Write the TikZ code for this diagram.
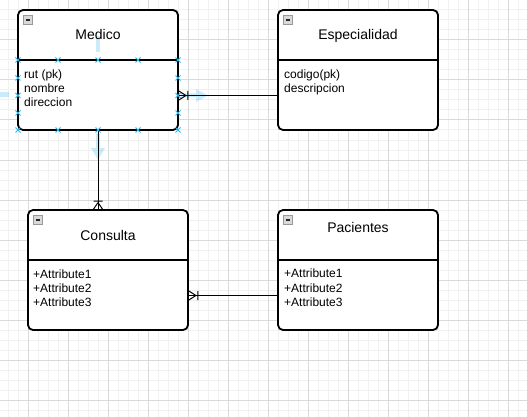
\documentclass[tikz,border=0pt]{standalone}
\usepackage{fontspec}
\setmainfont{Liberation Sans}
\usetikzlibrary{calc}
\definecolor{handle}{HTML}{29B6F2}
\definecolor{gridminor}{HTML}{F1F1F1}
\definecolor{gridmajor}{HTML}{DADADA}
\begin{document}
\begin{tikzpicture}[x=1pt,y=-1pt,
  entity/.style={draw, line width=1.8pt, rounded corners=5pt, minimum width=160pt,
    minimum height=120pt, inner sep=0pt, fill=white},
  sepline/.style={line width=1.8pt},
  title/.style={anchor=base, inner sep=0pt, font=\fontsize{14}{16}\selectfont},
  attr/.style={anchor=base west, inner sep=0pt, font=\fontsize{12}{14}\selectfont},
  conn/.style={line width=1pt, black},
  minusbox/.style={draw=gray!80, fill=gray!30, line width=0.6pt, minimum size=8.5pt, inner sep=0pt,
    path picture={\draw[line width=1.3pt, black!85] ([xshift=1.8pt]path picture bounding box.west) -- ([xshift=-1.8pt]path picture bounding box.east);}},
  handlemark/.style={handle, line width=1pt},
  hover/.style={fill=handle, fill opacity=0.25}
]
\useasboundingbox (0,0) rectangle (527,417);
\fill[white] (0,0) rectangle (527,417);
% grid
\foreach \x in {8,18,...,518} \draw[gridminor, line width=1pt] (\x,0) -- (\x,417);
\foreach \y in {10,20,...,410} \draw[gridminor, line width=1pt] (0,\y) -- (527,\y);
\foreach \x in {28,68,...,508} \draw[gridmajor, line width=1pt] (\x,0) -- (\x,417);
\foreach \y in {0,40,...,400} \draw[gridmajor, line width=1pt] (0,\y) -- (527,\y);

% entity boxes
\node[entity] (medico) at (98,70) {};
\node[entity] (especialidad) at (358,70) {};
\node[entity] (consulta) at (108,270) {};
\node[entity] (pacientes) at (358,270) {};

\draw[sepline] (medico.west |- 0,60) -- (medico.east |- 0,60);
\draw[sepline] (especialidad.west |- 0,60) -- (especialidad.east |- 0,60);
\draw[sepline] (consulta.west |- 0,260) -- (consulta.east |- 0,260);
\draw[sepline] (pacientes.west |- 0,260) -- (pacientes.east |- 0,260);

% minus icons
\node[minusbox] (medicoM) at (28,20) {};
\node[minusbox] (especialidadM) at (288,20) {};
\node[minusbox] (consultaM) at (38,220) {};
\node[minusbox] (pacientesM) at (288,220) {};

% hover arrows (behind text)
\fill[hover] (96,36.5) rectangle (100,52);
\fill[hover] (0,92.5) rectangle (9,97);
\fill[hover] (181,93.5) -- (196,93.5) -- (196,89) -- (208,95.5) -- (196,102) -- (196,97.5) -- (181,97.5) -- cycle;
\fill[hover] (96,134) -- (96,148) -- (91,148) -- (98,160) -- (105,148) -- (100,148) -- (100,134) -- cycle;

% titles
\node[title] (medicoT) at (98,40) {Medico};
\node[title] (especialidadT) at (358,40) {Especialidad};
\node[title] (consultaT) at (108,240.5) {Consulta};
\node[title] (pacientesT) at (358,232.3) {Pacientes};

% attributes
\node[attr] (medicoA1) at (24,78.5) {rut (pk)};
\node[attr] (medicoA2) at (24,92.5) {nombre};
\node[attr] (medicoA3) at (24,106.5) {direccion};
\node[attr] (especialidadA1) at (284,78.5) {codigo(pk)};
\node[attr] (especialidadA2) at (284,92.5) {descripcion};
\node[attr] (consultaA1) at (33,278.3) {+Attribute1};
\node[attr] (consultaA2) at (33,292.3) {+Attribute2};
\node[attr] (consultaA3) at (33,306.5) {+Attribute3};
\node[attr] (pacientesA1) at (284,277.5) {+Attribute1};
\node[attr] (pacientesA2) at (284,292) {+Attribute2};
\node[attr] (pacientesA3) at (284,306.5) {+Attribute3};

% connectors
\coordinate (mE) at (medico.east |- 0,95.5);
\draw[conn] (especialidad.west |- mE) -- (mE);
\draw[conn] ($(mE)+(7,0)$) -- ($(mE)+(0,-4.5)$) ($(mE)+(7,0)$) -- ($(mE)+(0,4.5)$)
  ($(mE)+(9,-4.5)$) -- ($(mE)+(9,4.5)$);

\coordinate (cT) at (consulta.north -| medico.south);
\draw[conn] (medico.south) -- (cT);
\draw[conn] ($(cT)+(0,-6.5)$) -- ($(cT)+(-4.5,0)$) ($(cT)+(0,-6.5)$) -- ($(cT)+(4.5,0)$)
  ($(cT)+(-4.5,-8)$) -- ($(cT)+(4.5,-8)$);

\coordinate (cE) at (consulta.east |- 0,295.5);
\draw[conn] (pacientes.west |- cE) -- (cE);
\draw[conn] ($(cE)+(7,0)$) -- ($(cE)+(0,-4.5)$) ($(cE)+(7,0)$) -- ($(cE)+(0,4.5)$)
  ($(cE)+(9,-4.5)$) -- ($(cE)+(9,4.5)$);

% selection handles on Medico
\foreach \hx/\hy in {18/60,58/60,98/60,138/60,178/60,18/130,58/130,98/130,138/130,178/130,
  18/78,18/95.5,18/113,178/78,178/95.5,178/113}
  \draw[handlemark] (\hx-2.5,\hy-2.5) -- (\hx+2.5,\hy+2.5) (\hx-2.5,\hy+2.5) -- (\hx+2.5,\hy-2.5);
\end{tikzpicture}
\end{document}
